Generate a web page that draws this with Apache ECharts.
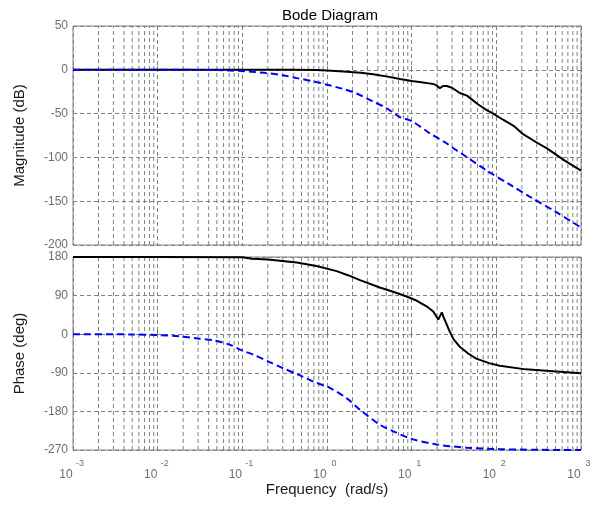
<!DOCTYPE html>
<html>
<head>
<meta charset="utf-8">
<title>Bode Diagram</title>
<script src="https://cdn.jsdelivr.net/npm/echarts@6/dist/echarts.min.js"></script>
<style>
  html, body { margin: 0; padding: 0; background: #ffffff; }
  #chart { width: 600px; height: 511px; }
</style>
</head>
<body>
<div id="chart"></div>
<script>
// ---- magnitude response (dB) ----
const magBlackFreq = [0.001, 0.01, 0.1, 0.4, 0.75, 1.0, 1.56, 2.5, 3.5, 5, 7.3, 10, 13, 16, 18, 19.5, 21.5, 23.5, 26, 30, 37, 45, 60, 77, 92, 120, 160, 207, 300, 400, 650, 1000];
const magBlackDb   = [0, 0, 0, 0, -0.3, -0.8, -2, -3.5, -5, -7.5, -10.5, -12.8, -14.3, -15.5, -16.3, -17.5, -21, -18.5, -18.5, -20.5, -26.5, -29.5, -39, -46, -50, -57, -64, -73.5, -83, -90, -104, -115];

const magBlueFreq = [0.001, 0.01, 0.03, 0.05, 0.071, 0.1, 0.14, 0.194, 0.3, 0.44, 0.7, 1.0, 1.5, 2.24, 3.3, 5.07, 7.28, 10, 16.4, 25, 34, 44.6, 77, 150, 250, 500, 1000];
const magBlueDb   = [0, 0, -0.1, -0.3, -0.8, -1.5, -2.6, -3.8, -6.2, -9.5, -13.2, -17, -21.5, -27, -35, -44, -54, -58.5, -72.5, -83, -92, -99.5, -115, -132, -145, -162, -180];

// ---- phase response (deg) ----
const phBlackFreq = [0.001, 0.01, 0.1, 0.13, 0.2, 0.44, 0.75, 1.3, 1.8, 2.45, 4.2, 6.05, 8.7, 11.4, 15, 18, 19.5, 20.6, 22.7, 23.8, 25.4, 27.9, 31.3, 36.7, 46.5, 57.9, 84, 110, 222, 563, 1000];
const phBlackDeg  = [180, 180, 179.5, 176, 174, 167, 159, 147, 137, 126, 109, 99, 88, 78.5, 65, 53, 42, 34, 51, 40, 27, 8, -12, -28.6, -45, -57, -68, -73.6, -82, -87.5, -91];

const phBlueFreq = [0.001, 0.005, 0.01, 0.018, 0.03, 0.045, 0.07, 0.094, 0.14, 0.21, 0.3, 0.48, 0.7, 1.08, 1.7, 2.45, 4.2, 6, 9.6, 19.6, 44.6, 110, 300, 1000];
const phBlueDeg  = [0, -0.5, -2, -5, -10, -14, -24, -36, -49, -65, -79, -96, -111, -125, -149, -176, -211, -226, -243, -257, -264.5, -268, -269.5, -270];

// ---- axis ticks ----
const magTicks = [-200, -150, -100, -50, 0, 50];
const phaseTicks = [-270, -180, -90, 0, 90, 180];
const decades = [0.001, 0.01, 0.1, 1, 10, 100];
const mantissas = [2, 3, 4, 5, 6, 7, 8, 9];

const minorFreqs = [];
decades.forEach(d => mantissas.forEach(m => minorFreqs.push(+(m * d).toPrecision(3))));

const FONT = "'Liberation Sans', Arial, sans-serif";
const GRID_GRAY = '#808080';
const LABEL_GRAY = '#6e6e6e';
const GRID_DASH = [4, 3];

const pairs = (xs, ys) => xs.map((x, i) => [x, ys[i]]);

function freqAxis(gridIndex, showLabels) {
  return {
    type: 'log',
    logBase: 10,
    gridIndex: gridIndex,
    min: 0.001,
    max: 1000,
    axisLine: { show: false },
    axisTick: { show: true, inside: true, length: 4, lineStyle: { color: GRID_GRAY } },
    splitLine: { show: true, lineStyle: { color: GRID_GRAY, type: GRID_DASH, width: 1 } },
    axisLabel: {
      show: showLabels,
      margin: 9,
      formatter: v => '{b|10}{e|' + Math.round(Math.log10(v)) + '}',
      rich: {
        b: { fontFamily: FONT, fontSize: 12, color: LABEL_GRAY, width: 14, align: 'right', padding: [10, 0, 0, 0] },
        e: { fontFamily: FONT, fontSize: 9, color: LABEL_GRAY, width: 14, align: 'left', verticalAlign: 'top' }
      }
    },
    name: showLabels ? 'Frequency  (rad/s)' : '',
    nameLocation: 'middle',
    nameGap: 25,
    nameTextStyle: { fontFamily: FONT, fontSize: 15, color: '#1a1a1a' }
  };
}

function valueAxis(gridIndex, ticks, name) {
  const step = ticks[1] - ticks[0];
  return {
    type: 'value',
    gridIndex: gridIndex,
    min: ticks[0],
    max: ticks[ticks.length - 1],
    interval: step,
    axisLine: { show: false },
    axisTick: { show: true, inside: true, length: 4, lineStyle: { color: GRID_GRAY } },
    splitLine: { show: true, lineStyle: { color: GRID_GRAY, type: GRID_DASH, width: 1 } },
    axisLabel: {
      margin: 5,
      showMinLabel: true,
      showMaxLabel: true,
      fontFamily: FONT,
      fontSize: 12,
      color: LABEL_GRAY
    },
    name: name,
    nameLocation: 'middle',
    nameGap: 46,
    nameTextStyle: { fontFamily: FONT, fontSize: 15, color: '#1a1a1a' }
  };
}

// Vertical minor grid lines (2..9 within each decade), one broken polyline per panel.
function minorGrid(axisIndex, ticks) {
  const lo = ticks[0];
  const hi = ticks[ticks.length - 1];
  const data = [];
  minorFreqs.forEach(f => {
    data.push([f, lo], [f, hi], [f, null]);
  });
  return {
    type: 'line',
    xAxisIndex: axisIndex,
    yAxisIndex: axisIndex,
    data: data,
    z: 1,
    silent: true,
    showSymbol: false,
    symbol: 'none',
    connectNulls: false,
    lineStyle: { color: GRID_GRAY, type: GRID_DASH, width: 1 }
  };
}

function curve(axisIndex, data, color, dashed) {
  return {
    type: 'line',
    xAxisIndex: axisIndex,
    yAxisIndex: axisIndex,
    data: data,
    showSymbol: false,
    symbol: 'none',
    smooth: dashed ? 0.3 : false,
    z: dashed ? 4 : 3,
    lineStyle: { color: color, width: 2, type: dashed ? [7, 4] : 'solid' }
  };
}

const chart = echarts.init(document.getElementById('chart'), null, { renderer: 'canvas' });

chart.setOption({
  backgroundColor: '#ffffff',
  animation: false,
  title: {
    text: 'Bode Diagram',
    left: 277,
    top: 3,
    textStyle: { fontFamily: FONT, fontSize: 15, fontWeight: 'normal', color: '#000000' }
  },
  grid: [
    { left: 73, top: 26, width: 508, height: 219, show: true, borderColor: GRID_GRAY, borderWidth: 1, backgroundColor: '#ffffff' },
    { left: 73, top: 257, width: 508, height: 193, show: true, borderColor: GRID_GRAY, borderWidth: 1, backgroundColor: '#ffffff' }
  ],
  xAxis: [freqAxis(0, false), freqAxis(1, true)],
  yAxis: [valueAxis(0, magTicks, 'Magnitude (dB)'), valueAxis(1, phaseTicks, 'Phase (deg)')],
  series: [
    minorGrid(0, magTicks),
    minorGrid(1, phaseTicks),
    curve(0, pairs(magBlackFreq, magBlackDb), '#000000', false),
    curve(0, pairs(magBlueFreq, magBlueDb), '#0000ff', true),
    curve(1, pairs(phBlackFreq, phBlackDeg), '#000000', false),
    curve(1, pairs(phBlueFreq, phBlueDeg), '#0000ff', true)
  ]
});
</script>
</body>
</html>
